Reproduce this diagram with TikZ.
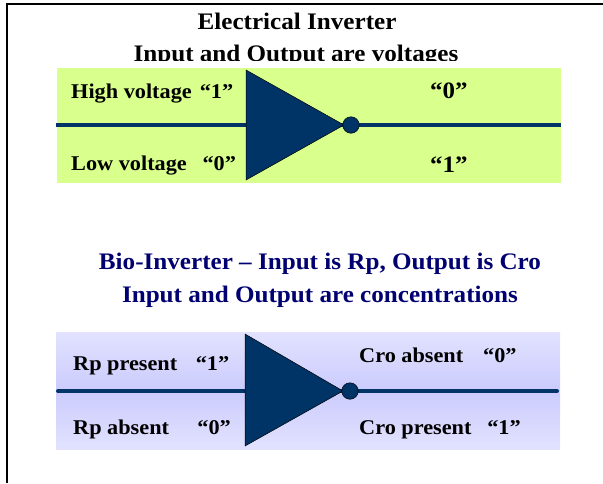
\documentclass[tikz,border=0pt]{standalone}
\usepackage{fontspec}
\setmainfont[FakeStretch=1.06]{Liberation Serif}
\usetikzlibrary{positioning}
\definecolor{gatenavy}{HTML}{003366}
\definecolor{biotitle}{HTML}{000070}
\definecolor{elgreen}{HTML}{D9FF8C}
\definecolor{biolight}{HTML}{E2E2FF}
\definecolor{biomid}{HTML}{CBCBFD}
\tikzset{
    label text/.style={font=\fontsize{21}{23}\selectfont\bfseries,anchor=base west,inner sep=0pt},
    big text/.style={font=\fontsize{23.5}{25}\selectfont\bfseries,anchor=base west,inner sep=0pt},
    title text/.style={font=\fontsize{23.7}{25}\selectfont\bfseries,anchor=base,inner sep=0pt},
    gate/.style={fill=gatenavy,draw=black,line width=0.5pt,line join=miter},
    bubble/.style={circle,fill=gatenavy,draw=black,line width=0.5pt,minimum size=16.5pt,inner sep=0pt},
    wire/.style={draw=gatenavy,line width=4pt}
}
\begin{document}
\begin{tikzpicture}[x=1pt,y=-1pt,>=latex]
    \useasboundingbox (0,0) rectangle (603,483);

    % draw the frame
    \draw[black,line width=1.6pt] (7,483) -- (7,4) -- (603,4);

    % electrical titles
    \node[title text] (eltitle) at (297,29) {Electrical Inverter};
    \node[title text] (elsub) at (296,61) {Input and Output are voltages};
    \fill[white] (100,61) rectangle (500,68);

    % electrical panel
    \fill[elgreen] (57,68) rectangle (561,183);
    \coordinate (elin) at (56,125);
    \coordinate (elout) at (561,125);
    \draw[wire] (elin) -- (elout);

    % electrical gate
    \draw[gate] (246,70) -- (344,125) -- (246,180) -- cycle;
    \node[bubble] (elbub) at (351,125) {};

    % electrical labels
    \node[label text] (elhigh) at (71,98) {High voltage\hspace{0.12em} “1”};
    \node[label text] (ellow) at (71,170) {Low voltage\hspace{0.75em}“0”};
    \node[big text] (elzero) at (430,98) {“0”};
    \node[big text] (elone) at (430,172) {“1”};

    % bio titles
    \node[title text,text=biotitle] (biotitle) at (320,269) {Bio-Inverter – Input is Rp, Output is Cro};
    \node[title text,text=biotitle] (biosub) at (320,302) {Input and Output are concentrations};

    % bio panel
    \shade[top color=biolight,bottom color=biolight,middle color=biomid] (56,332) rectangle (560,449);
    \coordinate (bioin) at (58,391);
    \coordinate (bioout) at (557,391);
    \draw[wire,line cap=round] (bioin) -- (bioout);

    % bio gate
    \draw[gate] (245,334) -- (343,391) -- (245,446) -- cycle;
    \node[bubble] (biobub) at (350,391) {};

    % bio labels
    \node[label text] (biohigh) at (73,370) {Rp present\hspace{0.88em}“1”};
    \node[label text] (biolow) at (73,434) {Rp absent\hspace{1.35em}“0”};
    \node[label text] (croabs) at (359,362) {Cro absent\hspace{0.95em}“0”};
    \node[label text] (cropre) at (359,434) {Cro present\hspace{0.75em}“1”};
\end{tikzpicture}
\end{document}
